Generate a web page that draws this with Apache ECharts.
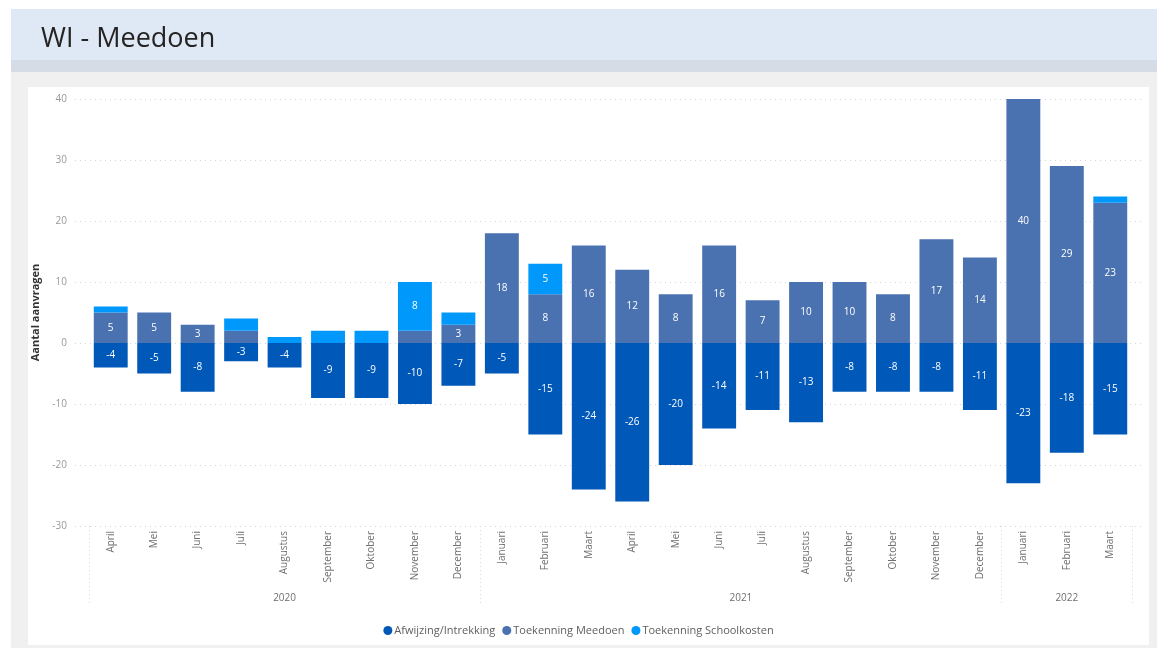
<!DOCTYPE html>
<html>
<head>
<meta charset="utf-8">
<script src="https://cdn.jsdelivr.net/npm/echarts@6/dist/echarts.min.js"></script>
<style>
  html, body { margin: 0; padding: 0; background: #ffffff; }
  #page { position: relative; width: 1157px; height: 648px; overflow: hidden; }
  #bg { position: absolute; left: 11px; top: 9px; width: 1146px; height: 639px; background: #f0f0f0; }
  #head { position: absolute; left: 11px; top: 9px; width: 1146px; height: 51px; background: #dfe9f5; }
  #strip { position: absolute; left: 11px; top: 60px; width: 1146px; height: 12px; background: #d5dce5; }
  #card { position: absolute; left: 28px; top: 87px; width: 1121px; height: 558px; background: #ffffff; }
  #chart { position: absolute; left: 0; top: 0; width: 1157px; height: 648px; }
</style>
</head>
<body>
<div id="page">
  <div id="bg"></div>
  <div id="head"></div>
  <div id="strip"></div>
  <div id="card"></div>
  <div id="chart"></div>
</div>
<script>
// ---- data ----
const months = ['April','Mei','Juni','Juli','Augustus','September','Oktober','November','December',
  'Januari','Februari','Maart','April','Mei','Juni','Juli','Augustus','September','Oktober','November','December',
  'Januari','Februari','Maart'];
const years = ['2020', '2021', '2022'];
const yearSpanStart = [0, 9, 21, 24];   // month index boundaries of the year groups
const afwijzing = [-4,-5,-8,-3,-4,-9,-9,-10,-7, -5,-15,-24,-26,-20,-14,-11,-13,-8,-8,-8,-11, -23,-18,-15];
const meedoen   = [5,5,3,2,0,0,0,2,3, 18,8,16,12,8,16,7,10,10,8,17,14, 40,29,23];
const school    = [1,0,0,2,1,2,2,8,2, 0,5,0,0,0,0,0,0,0,0,0,0, 0,0,1];
const yTicks = { min: -30, max: 40, interval: 10 };

const yearCenters = years.map((y, i) => (yearSpanStart[i] + yearSpanStart[i + 1]) / 2);

const chart = echarts.init(document.getElementById('chart'), null, { renderer: 'canvas' });
const FONT = '"Segoe UI", "Open Sans", "Noto Sans", sans-serif';

const labelCfg = {
  show: true, position: 'inside', color: '#ffffff', fontSize: 10, fontFamily: FONT,
  formatter: p => (Math.abs(p.value) >= 3 ? String(p.value) : '')
};

chart.setOption({
  backgroundColor: 'transparent',
  animation: false,
  title: {
    text: 'WI - Meedoen', left: 36, top: 21,
    textStyle: { fontFamily: FONT, fontSize: 27, fontWeight: 'normal', color: '#252423' }
  },
  legend: {
    top: 620, left: 'center',
    icon: 'circle', itemWidth: 9, itemHeight: 9, itemGap: 7,
    textStyle: { fontFamily: FONT, fontSize: 11, color: '#605e5c', padding: [0, 0, 0, -3] },
    data: ['Afwijzing/Intrekking', 'Toekenning Meedoen', 'Toekenning Schoolkosten']
  },
  grid: [
    { left: 89, right: 25, top: 99, bottom: 122 },
    { left: 75, right: 14, top: 99, bottom: 122 }
  ],
  xAxis: [
    {
      type: 'category', gridIndex: 0, data: months,
      axisLine: { show: false }, axisTick: { show: false },
      axisLabel: { rotate: 90, fontSize: 10, color: '#6f6f6f', fontFamily: FONT, margin: 5, interval: 0 }
    },
    {
      type: 'value', gridIndex: 0, min: 0, max: 24, position: 'bottom',
      axisLine: { show: false }, splitLine: { show: false },
      axisTick: { show: true, customValues: yearSpanStart, length: 80,
        lineStyle: { color: '#d8d8d8', type: [1, 3], width: 1 } },
      axisLabel: { customValues: yearCenters, margin: 67, fontSize: 10, color: '#6f6f6f', fontFamily: FONT,
        formatter: v => years[yearCenters.indexOf(v)] || '' }
    },
    {
      type: 'value', gridIndex: 1, min: 0, max: 1, show: false
    }
  ],
  yAxis: [
    { type: 'value', gridIndex: 0, min: yTicks.min, max: yTicks.max, interval: yTicks.interval, show: false },
    {
      type: 'value', gridIndex: 1, min: yTicks.min, max: yTicks.max, interval: yTicks.interval,
      axisLine: { show: false }, axisTick: { show: false },
      axisLabel: { fontSize: 10, color: '#999999', fontFamily: FONT, margin: 8 },
      splitLine: { show: true, lineStyle: { color: '#d4d4d4', type: [1, 4], width: 1 } },
      name: 'Aantal aanvragen', nameLocation: 'middle', nameRotate: 90, nameGap: 32,
      nameTextStyle: { fontFamily: FONT, fontSize: 11, fontWeight: 'bold', color: '#333333' }
    }
  ],
  series: [
    {
      name: 'Afwijzing/Intrekking', type: 'bar', stack: 'a', xAxisIndex: 0, yAxisIndex: 0,
      data: afwijzing, barCategoryGap: '22%', itemStyle: { color: '#0058b9' }, label: labelCfg
    },
    {
      name: 'Toekenning Meedoen', type: 'bar', stack: 'a', xAxisIndex: 0, yAxisIndex: 0,
      data: meedoen, barCategoryGap: '22%', itemStyle: { color: '#4a72b0' }, label: labelCfg
    },
    {
      name: 'Toekenning Schoolkosten', type: 'bar', stack: 'a', xAxisIndex: 0, yAxisIndex: 0,
      data: school, barCategoryGap: '22%', itemStyle: { color: '#0098fa' }, label: labelCfg
    }
  ]
});
</script>
</body>
</html>
